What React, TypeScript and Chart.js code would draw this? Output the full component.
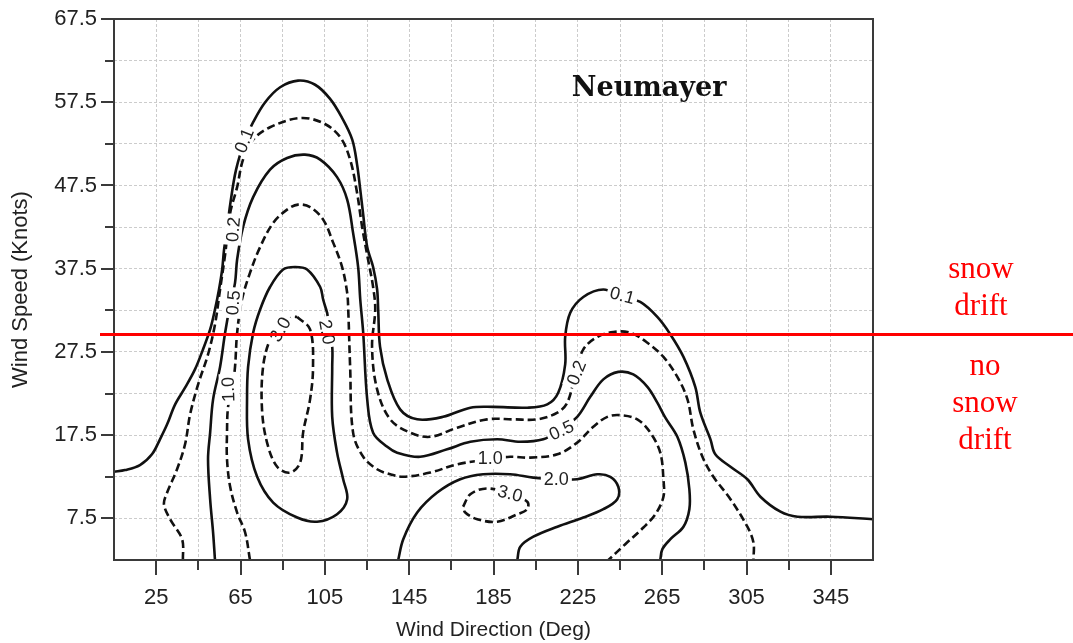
import { useEffect, useRef } from 'react';
import { Chart, registerables } from 'chart.js';

Chart.register(...registerables);

// Axis ticks
const xGridTicks = [5, 25, 45, 65, 85, 105, 125, 145, 165, 185, 205, 225, 245, 265, 285, 305, 325, 345, 365];
const xLabelTicks = [25, 65, 105, 145, 185, 225, 265, 305, 345];
const xMinorTicks = [45, 85, 125, 165, 205, 245, 285, 325];
const yGridTicks = [2.5, 7.5, 12.5, 17.5, 22.5, 27.5, 32.5, 37.5, 42.5, 47.5, 52.5, 57.5, 62.5, 67.5];
const yLabelTicks = [7.5, 17.5, 27.5, 37.5, 47.5, 57.5, 67.5];
const yMinorTicks = [12.5, 22.5, 32.5, 42.5, 52.5, 62.5];

const snowDriftThreshold = 29.6;
const stationName = 'Neumayer';
const aboveText = ['snow', 'drift'];
const belowText = ['no', 'snow', 'drift'];

// Contour lines: [wind direction (deg), wind speed (knots)]
const contour01: [number, number][] = [
  [5, 13.1], [10.2, 13.3], [17.3, 13.9], [23.0, 15.2], [26.8, 17.0], [30.2, 18.8], [34.0, 21.2],
  [38.7, 23.2], [43.4, 25.4], [47.2, 27.8], [50.6, 30.2], [52.9, 32.6], [54.8, 35.0], [56.3, 37.4],
  [57.2, 39.8], [58.6, 42.2], [60.1, 45.2], [62.9, 49.4], [67.2, 53.0], [71.0, 55.1], [76.7, 57.5],
  [83.8, 59.3], [92.3, 60.1], [100.4, 59.6], [107.5, 57.9], [113.2, 55.6], [118.0, 53.0], [120.3, 50.0],
  [121.8, 47.0], [123.2, 44.0], [125.1, 40.1], [127.9, 37.7], [129.8, 35.0], [130.3, 32.6], [131.2, 28.1],
  [134.6, 24.2], [140.7, 20.6], [148.8, 19.4], [161.1, 19.7], [174.0, 20.8], [184.9, 20.9], [201.0, 20.8],
  [210.5, 21.2], [215.7, 22.6], [219.0, 26.0], [219.0, 29.3], [221.4, 32.2], [227.6, 34.1], [237.1, 35.0],
  [246.1, 34.1], [254.6, 33.5], [262.7, 31.7], [268.9, 29.6], [275.1, 26.9], [280.7, 23.3], [283.1, 20.2],
  [287.9, 17.0], [290.2, 15.2], [297.4, 13.7], [305.4, 12.2], [311.6, 10.1], [321.1, 8.3], [329.2, 7.7],
  [344.8, 7.7], [365, 7.4],
];
const contour02: [number, number][] = [
  [37.7, 2.5], [37.3, 5.0], [31.6, 7.4], [28.7, 9.2], [30.2, 10.6], [34.9, 13.4], [38.7, 16.4],
  [41.1, 20.0], [44.9, 23.6], [49.6, 27.2], [52.9, 30.8], [55.3, 35.0], [57.7, 39.2], [60.1, 44.2],
  [63.4, 47.3], [66.2, 50.6], [71.0, 53.0], [79.0, 54.5], [93.3, 55.6], [104.2, 55.0], [112.3, 53.3],
  [117.0, 50.6], [120.3, 46.6], [122.7, 42.5], [125.5, 38.6], [127.9, 35.3], [128.9, 32.6], [127.4, 28.1],
  [129.8, 23.0], [136.0, 19.4], [145.5, 17.8], [155.0, 17.3], [167.8, 18.4], [182.0, 19.4], [194.4, 19.4],
  [205.8, 19.4], [215.3, 20.2], [220.0, 21.4], [223.8, 24.8], [227.6, 27.8], [234.2, 29.3], [241.8, 29.9],
  [249.9, 29.8], [258.0, 28.6], [265.6, 26.9], [272.2, 24.5], [277.0, 21.8], [279.8, 18.2], [284.1, 14.9],
  [289.3, 12.5], [297.4, 9.8], [305.4, 6.5], [308.3, 4.6], [308.3, 2.5],
];
const contour05: [number, number][] = [
  [52.9, 2.5], [52.0, 5.8], [50.6, 9.8], [49.6, 14.6], [50.6, 17.8], [52.0, 21.8], [55.3, 25.7],
  [57.7, 29.8], [60.1, 33.2], [62.4, 35.8], [63.4, 38.6], [66.2, 42.5], [71.0, 46.1], [79.0, 49.4],
  [87.1, 50.8], [95.6, 51.2], [102.8, 50.6], [110.8, 48.5], [115.6, 45.8], [118.4, 41.8], [120.8, 37.7],
  [121.8, 33.8], [123.2, 29.8], [125.1, 21.8], [127.9, 17.8], [134.6, 16.1], [139.3, 15.4], [150.2, 14.9],
  [163.0, 15.8], [174.0, 16.7], [186.8, 17.0], [197.7, 16.7], [208.6, 17.0], [216.7, 18.2], [224.7, 19.7],
  [230.9, 22.1], [237.1, 24.2], [244.2, 25.1], [251.3, 24.8], [258.0, 23.3], [262.7, 21.4], [266.5, 19.6],
  [272.2, 17.3], [276.0, 14.2], [277.9, 11.0], [277.9, 8.6], [275.1, 6.5], [268.9, 5.0], [265.1, 3.8],
  [264.1, 2.5],
];
const contour10: [number, number][] = [
  [69.5, 2.5], [67.2, 5.8], [63.4, 8.2], [60.1, 11.3], [58.6, 14.6], [58.6, 17.8], [59.1, 20.9],
  [61.0, 23.0], [62.4, 25.7], [63.4, 29.8], [65.7, 33.8], [69.5, 37.0], [74.3, 40.1], [80.5, 43.0],
  [87.1, 44.6], [92.3, 45.2], [98.0, 44.9], [104.2, 43.4], [109.0, 40.6], [113.2, 37.7], [115.6, 34.6],
  [116.1, 32.6], [117.0, 25.7], [118.4, 17.8], [123.2, 14.9], [129.8, 13.4], [136.0, 12.8], [142.2, 12.5],
  [155.0, 13.0], [167.8, 14.0], [183.5, 14.6], [192.9, 14.9], [202.4, 14.8], [215.3, 15.2], [224.7, 16.6],
  [232.3, 18.5], [239.0, 19.7], [245.2, 19.9], [253.2, 19.4], [259.4, 17.8], [264.1, 15.4], [265.6, 12.2],
  [265.6, 10.1], [261.8, 8.0], [256.1, 6.4], [247.5, 4.4], [239.5, 2.5],
];
const contour20West: [number, number][] = [
  [106.1, 32.2], [104.2, 33.8], [102.8, 35.3], [96.6, 37.4], [90.9, 37.7], [85.2, 37.4], [79.0, 35.3],
  [74.3, 32.6], [71.0, 29.8], [68.6, 25.7], [68.1, 21.8], [68.6, 17.0], [72.9, 12.5], [80.5, 9.4],
  [91.9, 7.6], [101.3, 7.1], [110.8, 8.0], [115.6, 9.8], [113.7, 12.2], [110.8, 15.4], [108.5, 19.7],
  [108.5, 25.7], [108.5, 28.1], [106.1, 32.2],
];
const contour20East: [number, number][] = [
  [139.8, 2.5], [142.2, 5.0], [148.8, 8.2], [158.3, 10.6], [169.2, 12.2], [180.1, 12.8], [192.9, 12.8],
  [203.9, 12.4], [214.3, 12.2], [224.7, 12.2], [234.2, 12.8], [240.4, 12.5], [244.2, 11.3], [243.7, 9.8],
  [237.1, 8.6], [227.6, 7.6], [215.3, 6.5], [203.9, 5.3], [197.7, 4.1], [196.3, 2.5],
];
const contour30West: [number, number][] = [
  [91.9, 31.7], [98.0, 30.2], [99.4, 25.7], [98.0, 21.8], [94.7, 17.8], [93.3, 14.2], [88.5, 13.0],
  [82.4, 13.7], [77.6, 16.6], [75.2, 20.6], [75.7, 25.7], [79.0, 29.0], [83.8, 30.8], [90.0, 31.7], [91.9, 31.7],
];
const contour30East: [number, number][] = [
  [170.6, 8.9], [174.0, 10.4], [182.0, 11.1], [192.9, 10.4], [201.0, 9.5], [201.0, 8.6], [196.3, 8.0],
  [186.8, 7.1], [177.3, 7.4], [171.6, 8.2], [170.6, 8.9],
];

const contourLines = [contour01, contour02, contour05, contour10, contour20West, contour20East, contour30West, contour30East];
const contourDashed = [false, true, false, true, false, false, true, true];

// Contour labels
const labelTexts = ['0.1', '0.2', '0.5', '1.0', '2.0', '3.0', '0.1', '0.2', '0.5', '1.0', '2.0', '3.0'];
const labelDeg = [66.7, 61.5, 61.5, 59.1, 106.1, 83.8, 246.1, 224.3, 217.2, 183.5, 214.8, 192.9];
const labelKn = [52.9, 42.2, 33.4, 23.0, 29.9, 30.2, 34.3, 25.0, 18.1, 14.7, 12.2, 10.5];
const labelAngle = [-68, -85, -85, -92, 80, -60, 15, -68, -25, 0, 0, 15];

const SANS = '"Liberation Sans", Arial, Helvetica, sans-serif';

const overlayPlugin = {
  id: 'overlay',
  afterDatasetsDraw(chart: any) {
    const { ctx, scales } = chart;
    const xs = scales.x;
    const ys = scales.y;
    ctx.save();
    ctx.font = `18px ${SANS}`;
    ctx.textAlign = 'center';
    ctx.textBaseline = 'middle';
    labelTexts.forEach((t, i) => {
      const px = xs.getPixelForValue(labelDeg[i]);
      const py = ys.getPixelForValue(labelKn[i]);
      ctx.save();
      ctx.translate(px, py);
      ctx.rotate((labelAngle[i] * Math.PI) / 180);
      const w = ctx.measureText(t).width + 6;
      ctx.fillStyle = '#ffffff';
      ctx.fillRect(-w / 2, -9, w, 18);
      ctx.fillStyle = '#222222';
      ctx.fillText(t, 0, 1);
      ctx.restore();
    });
    ctx.restore();
  },
  afterDraw(chart: any) {
    const { ctx, chartArea, scales } = chart;
    const xs = scales.x;
    const ys = scales.y;
    const { left, right, top, bottom } = chartArea;
    ctx.save();
    // frame
    ctx.strokeStyle = '#3a3a3a';
    ctx.lineWidth = 2;
    ctx.strokeRect(left, top, right - left, bottom - top);
    // tick marks
    ctx.beginPath();
    xLabelTicks.forEach((v) => {
      const p = Math.round(xs.getPixelForValue(v));
      ctx.moveTo(p, bottom);
      ctx.lineTo(p, bottom + 15);
    });
    xMinorTicks.forEach((v) => {
      const p = Math.round(xs.getPixelForValue(v));
      ctx.moveTo(p, bottom);
      ctx.lineTo(p, bottom + 10);
    });
    yLabelTicks.forEach((v) => {
      const p = Math.round(ys.getPixelForValue(v));
      ctx.moveTo(left, p);
      ctx.lineTo(left - 13, p);
    });
    yMinorTicks.forEach((v) => {
      const p = Math.round(ys.getPixelForValue(v));
      ctx.moveTo(left, p);
      ctx.lineTo(left - 9, p);
    });
    ctx.stroke();

    // station title
    ctx.fillStyle = '#111111';
    ctx.font = 'bold 27px "DejaVu Serif", "Liberation Serif", serif';
    ctx.textAlign = 'center';
    ctx.textBaseline = 'alphabetic';
    ctx.fillText(stationName, left + (right - left) * 0.705, top + 77);

    // snow drift threshold
    const ry = ys.getPixelForValue(snowDriftThreshold);
    ctx.strokeStyle = '#ff0000';
    ctx.lineWidth = 3;
    ctx.beginPath();
    ctx.moveTo(left - 14, ry);
    ctx.lineTo(chart.width, ry);
    ctx.stroke();

    ctx.fillStyle = '#ff0000';
    ctx.font = '31px "Liberation Serif", "Times New Roman", serif';
    const cx = right + 108;
    aboveText.forEach((t, i) => {
      ctx.fillText(t, cx, ry - 56 + i * 37);
    });
    belowText.forEach((t, i) => {
      ctx.fillText(t, cx + 4, ry + 41 + i * 37);
    });
    ctx.restore();
  },
};

export default function App() {
  const canvasRef = useRef<HTMLCanvasElement | null>(null);

  useEffect(() => {
    const canvas = canvasRef.current;
    if (!canvas) return;
    const chart = new Chart(canvas, {
      type: 'scatter',
      data: {
        datasets: contourLines.map((pts, i) => ({
          data: pts.map(([x, y]) => ({ x, y })),
          showLine: true,
          pointRadius: 0,
          pointHoverRadius: 0,
          borderColor: '#111111',
          borderWidth: 2.6,
          borderDash: contourDashed[i] ? [8, 4] : [],
          tension: 0.35,
          fill: false,
        })),
      },
      options: {
        responsive: false,
        animation: false,
        devicePixelRatio: 1,
        layout: { padding: { left: 0, right: 200, top: 19, bottom: 0 } },
        plugins: {
          legend: { display: false },
          tooltip: { enabled: false },
          title: { display: false },
        },
        scales: {
          x: {
            type: 'linear',
            min: 5,
            max: 365,
            afterBuildTicks: (s: any) => {
              s.ticks = xGridTicks.map((v) => ({ value: v }));
            },
            afterFit: (s: any) => {
              s.height = 83;
              s.paddingLeft = 0;
              s.paddingRight = 0;
              s.paddingTop = 0;
              s.paddingBottom = 0;
            },
            ticks: {
              autoSkip: false,
              maxRotation: 0,
              minRotation: 0,
              padding: 25,
              color: '#222222',
              font: { family: SANS, size: 22 },
              callback: (v: any) => (xLabelTicks.includes(Number(v)) ? String(v) : ''),
            },
            grid: { color: '#cccccc', lineWidth: 1, drawTicks: false },
            border: { display: false, dash: [3, 2] },
            title: {
              display: true,
              text: 'Wind Direction (Deg)',
              color: '#222222',
              font: { family: SANS, size: 21 },
              padding: { top: 0, bottom: 0 },
            },
          },
          y: {
            type: 'linear',
            min: 2.5,
            max: 67.5,
            afterBuildTicks: (s: any) => {
              s.ticks = yGridTicks.map((v) => ({ value: v }));
            },
            afterFit: (s: any) => {
              s.width = 114;
              s.paddingLeft = 0;
              s.paddingRight = 0;
              s.paddingTop = 0;
              s.paddingBottom = 0;
            },
            ticks: {
              autoSkip: false,
              padding: 17,
              color: '#222222',
              font: { family: SANS, size: 22 },
              callback: (v: any) => (yLabelTicks.includes(Number(v)) ? Number(v).toFixed(1) : ''),
            },
            grid: { color: '#cccccc', lineWidth: 1, drawTicks: false },
            border: { display: false, dash: [3, 2] },
            title: {
              display: true,
              text: 'Wind Speed (Knots)',
              color: '#222222',
              font: { family: SANS, size: 22 },
              padding: { top: 8, bottom: 0 },
            },
          },
        },
      },
      plugins: [overlayPlugin],
    });
    return () => chart.destroy();
  }, []);

  return (
    <div style={{ position: 'absolute', left: 0, top: 0, width: 1073, height: 643, background: '#ffffff' }}>
      <canvas ref={canvasRef} width={1073} height={643} style={{ display: 'block' }} />
    </div>
  );
}
